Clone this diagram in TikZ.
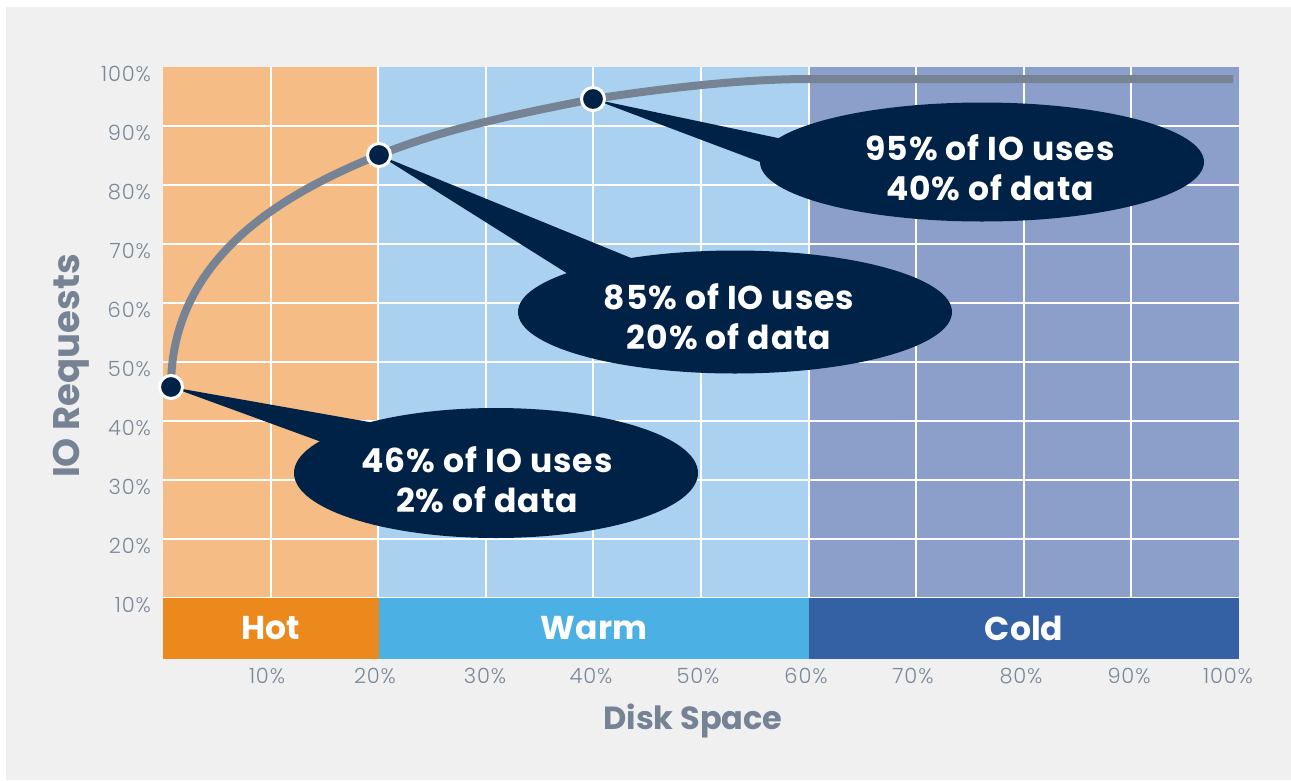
\documentclass[tikz,border=0pt]{standalone}
\usepackage{fontspec}
\setmainfont{Poppins}
\newfontfamily\lightfont{Poppins Light}[LetterSpace=4]
\newfontfamily\calloutfont{Poppins}[LetterSpace=3]
\usetikzlibrary{shapes.geometric}
\definecolor{bg}{HTML}{F0F0F0}
\definecolor{hotL}{HTML}{F5BD85}
\definecolor{warmL}{HTML}{AAD2F0}
\definecolor{coldL}{HTML}{8C9FCB}
\definecolor{hot}{HTML}{EC891D}
\definecolor{warm}{HTML}{4BB1E4}
\definecolor{cold}{HTML}{3361A4}
\definecolor{navy}{HTML}{002247}
\definecolor{curvegray}{HTML}{758394}
\definecolor{ticklab}{HTML}{7A8899}
\begin{document}
\begin{tikzpicture}[x=1pt,y=-1pt,
  gridline/.style={white,line width=2pt},
  band/.style={inner sep=0pt,minimum height=61pt,text=white,font=\bfseries\fontsize{33}{33}\selectfont},
  callout/.style={ellipse,fill=navy,inner sep=0pt},
  callouttext/.style={inner sep=0pt,text=white,align=center,font=\calloutfont\bfseries\fontsize{33}{40}\selectfont},
  pointer/.style={fill=navy},
  dot/.style={circle,fill=navy,draw=white,line width=3pt,minimum size=23pt,inner sep=0pt},
  curve/.style={curvegray,line width=8pt},
  ylab/.style={anchor=base east,text=ticklab,font=\lightfont\fontsize{21}{21}\selectfont,inner sep=0pt},
  xlab/.style={anchor=base,text=ticklab,font=\lightfont\fontsize{21}{21}\selectfont,inner sep=0pt},
  axtitle/.style={text=curvegray,font=\bfseries,inner sep=0pt}]
\useasboundingbox (0,0) rectangle (1291,780);
\fill[white] (0,0) rectangle (1291,780);
\fill[bg] (6,7) rectangle (1291,780);
% shaded regions
\fill[hotL] (163,67) rectangle (379,598);
\fill[warmL] (379,67) rectangle (809,598);
\fill[coldL] (809,67) rectangle (1239,598);
% grid
\foreach \i in {1,...,9} \draw[gridline] ({163+107.6*\i},67) -- ({163+107.6*\i},598);
\foreach \j in {1,...,9} \draw[gridline] (163,{67+59*\j}) -- (1239,{67+59*\j});
% bands
\node[band,fill=hot,minimum width=216pt] (hotband) at (271,628.5) {Hot};
\node[band,fill=warm,minimum width=430pt] (warmband) at (594,628.5) {Warm};
\node[band,fill=cold,minimum width=430pt] (coldband) at (1024,628.5) {Cold};
% y labels
\foreach \v [count=\k from 0] in {100,90,80,70,60,50,40,30,20,10}
  \node[ylab] (y\v) at (151,{67+59*\k+14}) {\v\%};
% x labels
\foreach \v/\xx in {10/267,20/375,30/485,40/591,50/698,60/806,70/913,80/1021,90/1129,100/1228}
  \node[xlab] (x\v) at (\xx,683) {\v\%};
% axis titles
\node[axtitle,anchor=base,font=\bfseries\fontsize{32}{32}\selectfont] (xtitle) at (693,729) {Disk Space};
\node[axtitle,anchor=base,rotate=90,font=\bfseries\fontsize{37}{37}\selectfont] (ytitle) at (79,366) {IO Requests};
% curve points
\coordinate (p1) at (171,387);
\coordinate (p2) at (379,155);
\coordinate (p3) at (593,99);
\coordinate (pflat) at (810,79);
\coordinate (pend) at (1233,79);
\draw[curve] (p1) .. controls (171,260) and (279,195) .. (p2)
  .. controls (449,127) and (523,113) .. (p3)
  .. controls (663,88.5) and (740,79) .. (pflat) -- (pend);
% pointers
\fill[pointer] (p1) -- (420,431) -- (360,456) -- cycle;
\fill[pointer] (p2) -- (680,278) -- (600,294) -- cycle;
\fill[pointer] (p3) -- (830,149) -- (800,177) -- cycle;
% callouts
\node[callout,minimum width=404pt,minimum height=130pt] (c1) at (496,473) {};
\node[callout,minimum width=434pt,minimum height=123pt] (c2) at (735,312) {};
\node[callout,minimum width=444pt,minimum height=119pt] (c3) at (982,162) {};
\node[callouttext,xshift=-9pt,yshift=-7pt] (t1) at (c1.center) {46\% of IO uses\\2\% of data};
\node[callouttext,xshift=-6pt,yshift=-5pt] (t2) at (c2.center) {85\% of IO uses\\20\% of data};
\node[callouttext,xshift=8pt,yshift=-6pt] (t3) at (c3.center) {95\% of IO uses\\40\% of data};
% dots
\node[dot] (d1) at (p1) {};
\node[dot] (d2) at (p2) {};
\node[dot] (d3) at (p3) {};
\end{tikzpicture}
\end{document}
